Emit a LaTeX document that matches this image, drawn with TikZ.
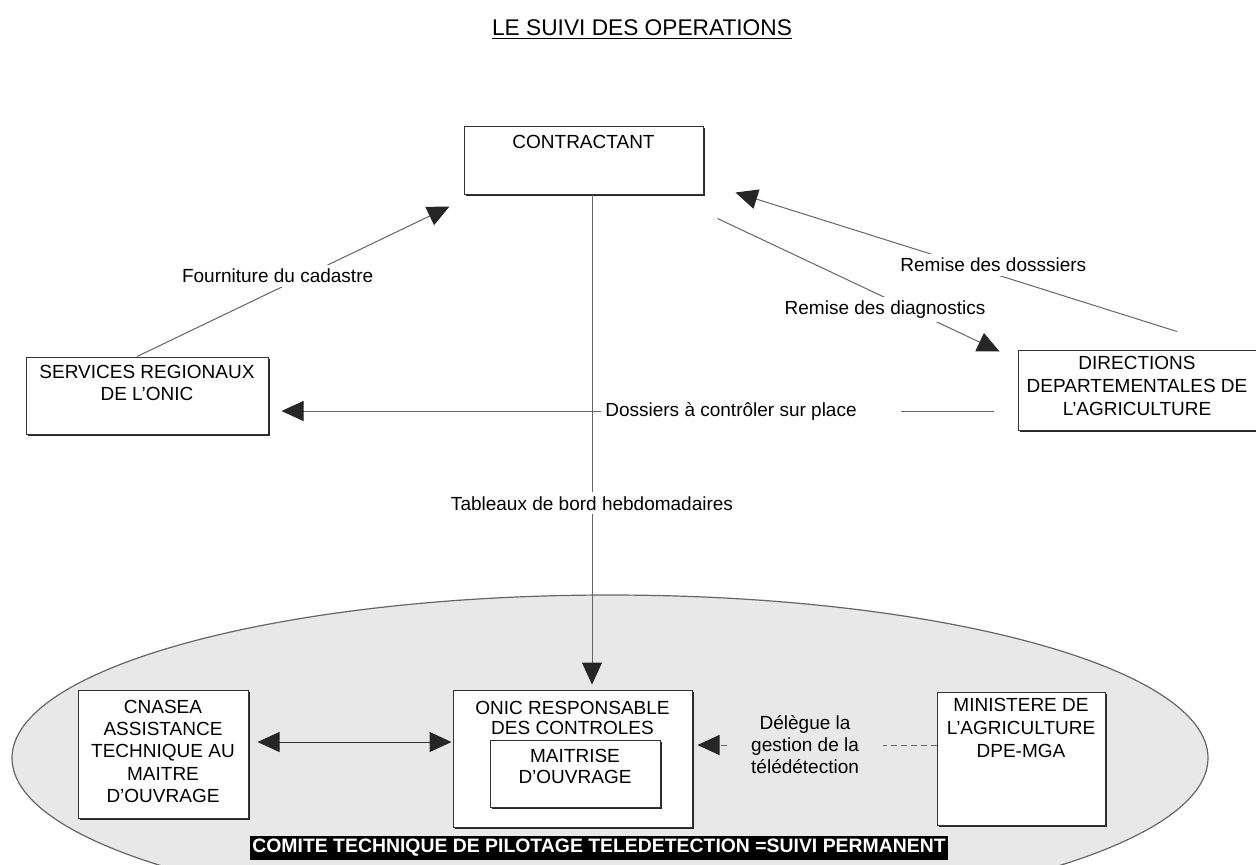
\documentclass[tikz,border=0pt]{standalone}
\usepackage{fontspec}
\setmainfont{Liberation Sans}
\usetikzlibrary{arrows.meta,shadows,calc,shapes.geometric}
\begin{document}
\begin{tikzpicture}[x=0.5pt,y=-0.5pt,
  box/.style={draw=black!80,line width=0.5pt,fill=white,inner sep=0pt,
    drop shadow={shadow xshift=1.2pt,shadow yshift=-1.2pt,opacity=1,fill=black!85}},
  btxt/.style={anchor=north,align=center,inner sep=0pt,font=\fontsize{9.5}{11.2}\selectfont},
  lbl/.style={fill=white,inner sep=2pt,align=center,font=\fontsize{9.5}{11}\selectfont},
  conn/.style={draw=black!60,line width=0.5pt},
  tipe/.style={-{Triangle[length=11pt,width=10pt,color=black!85]}},
  dtip/.style={{Triangle[length=11pt,width=10pt,color=black!85]}-{Triangle[length=11pt,width=10pt,color=black!85]}},
]
\useasboundingbox (0,0) rectangle (1256,864);
\clip (0,0) rectangle (1256,864);
\fill[white] (0,0) rectangle (1256,864);

% title
\node[font=\fontsize{11.35}{13}\selectfont,inner sep=0pt] (title) at (642,30) {\underline{LE SUIVI DES OPERATIONS}};

% comite ellipse
\node[ellipse,draw=black!60,fill=black!9,line width=0.6pt,inner sep=0pt,
      minimum width=598pt,minimum height=163pt] (comite) at (610,758) {};

% boxes
\node[box,minimum width=119.5pt,minimum height=34pt] (contr) at (583.5,160) {};
\node[btxt] (contrT) at ([yshift=-4.5pt]contr.north) {CONTRACTANT};

\node[box,minimum width=121pt,minimum height=38.5pt] (serv) at (147,395.5) {};
\node[btxt] (servT) at ([yshift=-4pt]serv.north) {SERVICES REGIONAUX\\DE L'ONIC};

\node[box,minimum width=122pt,minimum height=40pt] (dda) at (1140,390) {};
\node[btxt,font=\fontsize{9.5}{11.5}\selectfont] (ddaT) at ([xshift=-1.5pt,yshift=-3pt]dda.north) {DIRECTIONS\\DEPARTEMENTALES DE\\L'AGRICULTURE};

\node[box,minimum width=85pt,minimum height=64pt] (cnasea) at (163,754) {};
\node[btxt] (cnaseaT) at ([yshift=-5pt]cnasea.north) {CNASEA\\ASSISTANCE\\TECHNIQUE AU\\MAITRE\\D'OUVRAGE};

\node[box,minimum width=119.5pt,minimum height=68.5pt] (onic) at (572.5,758.5) {};
\node[btxt,font=\fontsize{9.5}{10.2}\selectfont] (onicT) at ([yshift=-5.5pt]onic.north) {ONIC RESPONSABLE\\DES CONTROLES};
\node[box,minimum width=85pt,minimum height=33.5pt] (mo) at (575,773.5) {};
\node[btxt,font=\fontsize{9.5}{10.5}\selectfont] (moT) at ([yshift=-4.5pt]mo.north) {MAITRISE\\D'OUVRAGE};

\node[box,minimum width=84pt,minimum height=66.5pt] (mini) at (1021,758.5) {};
\node[btxt,font=\fontsize{9.5}{11.5}\selectfont] (miniT) at ([yshift=-3pt]mini.north) {MINISTERE DE\\L'AGRICULTURE\\DPE-MGA};

\node[fill=black,text=white,font=\bfseries\fontsize{9.7}{11}\selectfont,inner sep=0pt,
      minimum width=349pt,minimum height=12pt] (ctp) at (599,848) {COMITE TECHNIQUE DE PILOTAGE TELEDETECTION =SUIVI PERMANENT};

% connectors
\draw[conn,tipe] ([xshift=-5pt]serv.north) -- node[lbl,pos=0.45,yshift=6.5pt] (fourn) {Fourniture du cadastre} ([xshift=-7pt,yshift=-6pt]contr.south west);

\draw[conn,tipe] ([xshift=18.5pt,yshift=9pt]dda.north) -- node[lbl,pos=0.416,yshift=4.5pt,inner xsep=6pt] (rdos) {Remise des dosssiers} ([xshift=16pt,yshift=1pt]contr.south east);

\draw[conn,tipe] ([xshift=7pt,yshift=-12pt]contr.south east) -- node[lbl,pos=0.594,yshift=-6pt] (rdiag) {Remise des diagnostics} ([xshift=-9pt,yshift=-1pt]dda.north west);

\node[lbl] (dlbl) at (731,411) {Dossiers à contrôler sur place};
\draw[conn] ([xshift=-12pt,yshift=-10.5pt]dda.west) -- ([xshift=20pt]dlbl.east);
\draw[conn,tipe] (dlbl.west) -- ([xshift=6.5pt,yshift=-7.75pt]serv.east);

\draw[conn,tipe] ([xshift=4.25pt]contr.south) -- node[lbl,pos=0.63] (tab) {Tableaux de bord hebdomadaires} ([xshift=9.75pt,yshift=2.5pt]onic.north);

\draw[conn,draw=black!80,dtip] ([xshift=4.5pt,yshift=6pt]cnasea.east) -- ([xshift=-0.5pt,yshift=8.25pt]onic.west);

\draw[conn,dash pattern=on 3pt off 2pt,tipe] ([yshift=6.75pt]mini.west) -- node[lbl,fill=black!9,inner xsep=12pt,pos=0.55] (deleg) {Délègue la\\gestion de la\\télédétection} ([xshift=2.5pt,yshift=6.75pt]onic.east);
\end{tikzpicture}
\end{document}
